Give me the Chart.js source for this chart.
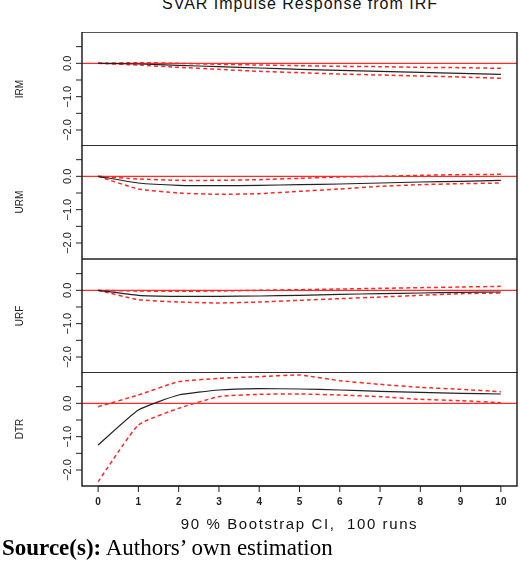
<!DOCTYPE html>
<html>
<head>
<meta charset="utf-8">
<script src="https://cdn.jsdelivr.net/npm/chart.js@4"></script>
<style>
  body { margin: 0; background: #fff; width: 520px; height: 571px; position: relative; overflow: hidden; }
  canvas { position: absolute; left: 0; }
  .txt { position: absolute; font-family: "Liberation Sans", Arial, sans-serif; color: #111; white-space: nowrap; }
</style>
</head>
<body>
<div class="txt" style="left:0;width:600px;text-align:center;top:-5px;font-size:16px;letter-spacing:1px;">SVAR Impulse Response from IRF</div>
<canvas id="c0" style="top:32px"></canvas>
<canvas id="c1" style="top:145px"></canvas>
<canvas id="c2" style="top:259px"></canvas>
<canvas id="c3" style="top:372px"></canvas>
<div class="txt" style="left:82px;width:435px;text-align:center;top:515px;font-size:15px;letter-spacing:1.6px;">90 % Bootstrap CI,&nbsp; 100 runs</div>
<div class="txt" style="left:2px;top:535px;font-family:'Liberation Serif','Times New Roman',serif;font-size:23px;color:#000;"><b>Source(s):</b> Authors’ own estimation</div>
<script>
const horizons = [0, 1, 2, 3, 4, 5, 6, 7, 8, 9, 10];
const panelNames = ["IRM", "URM", "URF", "DTR"];

const irmMid   = [0, -0.02, -0.06, -0.10, -0.14, -0.18, -0.21, -0.24, -0.27, -0.30, -0.33];
const irmUpper = [0, 0.02, 0.00, -0.03, -0.05, -0.07, -0.09, -0.10, -0.12, -0.13, -0.15];
const irmLower = [0, -0.05, -0.12, -0.18, -0.24, -0.28, -0.32, -0.35, -0.38, -0.41, -0.45];

const urmMid   = [0, -0.20, -0.27, -0.28, -0.27, -0.25, -0.23, -0.20, -0.17, -0.15, -0.12];
const urmUpper = [0, -0.08, -0.12, -0.12, -0.10, -0.06, -0.02, 0.00, 0.03, 0.05, 0.06];
const urmLower = [0, -0.38, -0.50, -0.54, -0.52, -0.45, -0.38, -0.30, -0.25, -0.22, -0.20];

const urfMid   = [0, -0.15, -0.18, -0.18, -0.17, -0.15, -0.12, -0.10, -0.08, -0.06, -0.05];
const urfUpper = [0, -0.02, -0.03, -0.02, 0.00, 0.02, 0.04, 0.06, 0.08, 0.10, 0.12];
const urfLower = [0, -0.28, -0.35, -0.38, -0.35, -0.30, -0.25, -0.20, -0.15, -0.10, -0.08];

const dtrMid   = [-1.25, -0.20, 0.25, 0.40, 0.44, 0.43, 0.40, 0.36, 0.33, 0.30, 0.28];
const dtrUpper = [-0.10, 0.25, 0.65, 0.75, 0.80, 0.85, 0.68, 0.57, 0.48, 0.42, 0.35];
const dtrLower = [-2.35, -0.65, -0.15, 0.20, 0.27, 0.28, 0.25, 0.20, 0.12, 0.08, 0.02];

const yTicks = [0.5, 0.0, -0.5, -1.0, -1.5, -2.0];
const yLabels = { "0": "0.0", "-1": "\u22121.0", "-2": "\u22122.0" };

const panels = [
  [irmMid, irmUpper, irmLower],
  [urmMid, urmUpper, urmLower],
  [urfMid, urfUpper, urfLower],
  [dtrMid, dtrUpper, dtrLower]
];

function pts(arr) {
  return horizons.map((h, i) => ({ x: h, y: arr[i] }));
}

const framePlugin = {
  id: 'frame',
  beforeDatasetsDraw(chart) {
    const { ctx, chartArea: a, scales: { y } } = chart;
    ctx.save();
    // zero line
    ctx.strokeStyle = '#ff2a2a';
    ctx.lineWidth = 1.2;
    ctx.beginPath();
    ctx.moveTo(a.left, y.getPixelForValue(0));
    ctx.lineTo(a.right, y.getPixelForValue(0));
    ctx.stroke();
    ctx.restore();
  },
  afterDraw(chart, args, opts) {
    const { ctx, chartArea: a, scales: { x, y } } = chart;
    ctx.save();
    ctx.strokeStyle = '#222';
    ctx.lineWidth = 1.5;
    ctx.strokeRect(a.left, a.top, a.right - a.left, a.bottom - a.top);
    ctx.lineWidth = 1;
    ctx.fillStyle = '#222';
    yTicks.forEach(v => {
      const py = y.getPixelForValue(v);
      ctx.beginPath();
      ctx.moveTo(a.left - 6, py);
      ctx.lineTo(a.left, py);
      ctx.stroke();
      const lab = yLabels[String(v)];
      if (lab) {
        ctx.save();
        ctx.translate(a.left - 14, py);
        ctx.rotate(-Math.PI / 2);
        ctx.font = '11px "Liberation Sans Narrow", "Liberation Sans", Arial, sans-serif';
        ctx.textAlign = 'center';
        ctx.textBaseline = 'middle';
        ctx.fillText(lab, 0, 0);
        ctx.restore();
      }
    });
    ctx.save();
    ctx.translate(20, (a.top + a.bottom) / 2);
    ctx.rotate(-Math.PI / 2);
    ctx.font = '10px "Liberation Sans Narrow", "Liberation Sans", Arial, sans-serif';
    ctx.textAlign = 'center';
    ctx.textBaseline = 'middle';
    ctx.fillText(opts.name, 0, 0);
    ctx.restore();
    if (opts.xAxis) {
      const x0 = x.getPixelForValue(0), x1 = x.getPixelForValue(10);
      ctx.beginPath();
      ctx.moveTo(x0, a.bottom);
      ctx.lineTo(x1, a.bottom);
      ctx.stroke();
      ctx.font = 'bold 10px "Liberation Sans", Arial, sans-serif';
      ctx.textAlign = 'center';
      ctx.textBaseline = 'middle';
      horizons.forEach(h => {
        const px = x.getPixelForValue(h);
        ctx.beginPath();
        ctx.moveTo(px, a.bottom);
        ctx.lineTo(px, a.bottom + 6);
        ctx.stroke();
        ctx.fillText(String(h), px, a.bottom + 16);
      });
    }
    ctx.restore();
  }
};

panels.forEach((series, k) => {
  const last = k === panels.length - 1;
  const canvas = document.getElementById('c' + k);
  canvas.width = 520;
  canvas.height = last ? 144 : 114;
  canvas.style.width = '520px';
  canvas.style.height = canvas.height + 'px';
  new Chart(canvas.getContext('2d'), {
    type: 'line',
    data: {
      datasets: [
        { data: pts(series[0]), borderColor: '#222', borderWidth: 1.2, pointRadius: 0, tension: 0.15 },
        { data: pts(series[1]), borderColor: '#ff2a2a', borderWidth: 1.5, borderDash: [4, 3], pointRadius: 0, tension: 0.15 },
        { data: pts(series[2]), borderColor: '#ff2a2a', borderWidth: 1.5, borderDash: [4, 3], pointRadius: 0, tension: 0.15 }
      ]
    },
    options: {
      responsive: false,
      animation: false,
      devicePixelRatio: 1,
      layout: { padding: { left: 82, right: 3, top: 0, bottom: last ? 30 : 0 } },
      plugins: {
        legend: { display: false },
        tooltip: { enabled: false },
        frame: { name: panelNames[k], xAxis: last }
      },
      scales: {
        x: { type: 'linear', min: -0.4, max: 10.4, display: false },
        y: { min: -2.48, max: 0.94, display: false }
      }
    },
    plugins: [framePlugin]
  });
});
</script>
</body>
</html>
